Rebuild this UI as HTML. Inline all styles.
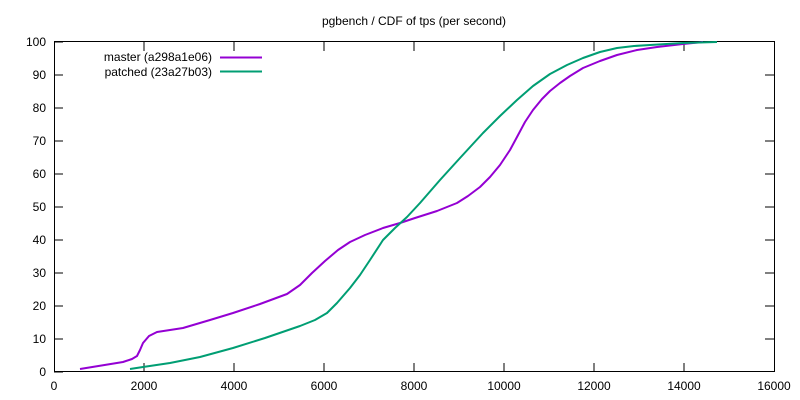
<!DOCTYPE html><html><head><style>body{margin:0;background:#fff}svg{display:block}text{font-family:"Liberation Sans",sans-serif;font-size:12px;fill:#000}</style></head><body>
<svg width="800" height="400" viewBox="0 0 800 400">
<text x="414" y="25" text-anchor="middle">pgbench / CDF of tps (per second)</text>
<g stroke="#000" stroke-width="1">
<rect x="54.5" y="41.5" width="720" height="330" fill="none"/>
<path d="M54 372h9M54 339h9M54 306h9M54 273h9M54 240h9M54 207h9M54 174h9M54 141h9M54 108h9M54 75h9M54 42h9
M774 339h-9M774 306h-9M774 273h-9M774 240h-9M774 207h-9M774 174h-9M774 141h-9M774 108h-9M774 75h-9
M144 372v-9M234 372v-9M324 372v-9M414 372v-9M504 372v-9M594 372v-9M684 372v-9
M144 42v9M234 42v9M324 42v9M414 42v9M504 42v9M594 42v9M684 42v9"/>
</g>
<g text-anchor="end">
<text x="46" y="376">0</text><text x="46" y="343">10</text><text x="46" y="310">20</text><text x="46" y="277">30</text><text x="46" y="244">40</text><text x="46" y="211">50</text><text x="46" y="178">60</text><text x="46" y="145">70</text><text x="46" y="112">80</text><text x="46" y="79">90</text><text x="46" y="46">100</text>
</g>
<g text-anchor="middle">
<text x="54" y="390">0</text><text x="144" y="390">2000</text><text x="234" y="390">4000</text><text x="324" y="390">6000</text><text x="414" y="390">8000</text><text x="504" y="390">10000</text><text x="594" y="390">12000</text><text x="684" y="390">14000</text><text x="774" y="390">16000</text>
</g>
<text x="212" y="61" text-anchor="end">master (a298a1e06)</text>
<text x="212" y="76" text-anchor="end">patched (23a27b03)</text>
<path d="M220 57.5h42" stroke="#9400d3" stroke-width="2"/>
<path d="M220 71.5h42" stroke="#009e73" stroke-width="2"/>
<polyline fill="none" stroke="#9400d3" stroke-width="2" stroke-linejoin="round" points="80,369 123,362 132,359 137,356 140,350 143,343 149,336 157,332 170,330 183,328 210,320 233,313 260,304 287,294 300,285 312,273 325,261 338,250 350,242 365,235 383,228 400,223 415,218 437,211 457,203 468,196 480,187 490,177 500,165 510,150 517,137 525,122 533,110 542,99 550,91 560,83 570,76 583,68 600,61 617,55 637,50 657,47 683,44 703,42"/>
<polyline fill="none" stroke="#009e73" stroke-width="2" stroke-linejoin="round" points="130,369 143,367 170,363 200,357 233,348 265,338 300,326 315,320 327,313 337,303 350,288 360,275 370,260 383,240 395,228 407,217 420,203 440,180 460,158 483,133 500,116 517,100 533,86 550,74 567,65 583,58 600,52 617,48 634,46 650,45 683,43 717,42"/>
</svg></body></html>
